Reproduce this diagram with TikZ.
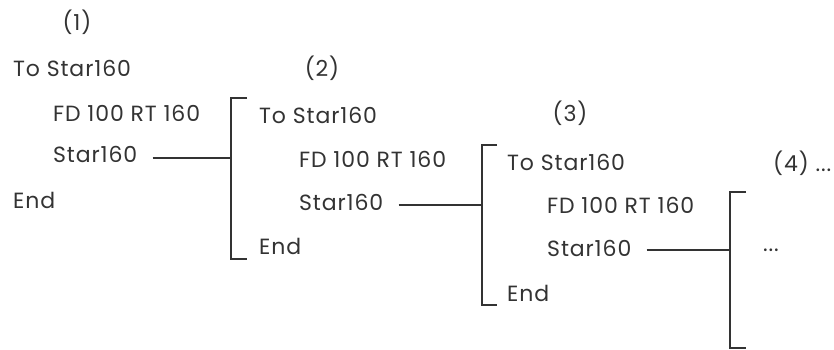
\documentclass[tikz,border=0pt]{standalone}
\usepackage{fontspec}
\setmainfont[LetterSpace=4]{Poppins}
\usetikzlibrary{positioning}
\definecolor{ink}{HTML}{333333}
\tikzset{
  code/.style={anchor=west,inner sep=0pt,text=ink,
               font=\fontsize{22}{24}\selectfont},
  tag/.style={inner sep=0pt,text=ink,font=\fontsize{22}{24}\selectfont},
  wire/.style={line width=1.2pt,draw=ink,shorten <=15pt},
  brace/.style={line width=1.2pt,draw=ink},
}
\begin{document}
\begin{tikzpicture}[x=1pt,y=-1pt]
  \useasboundingbox (0,0) rectangle (834,349);
  % level (1)
  \node[tag] (lbl1) at (77,22) {(1)};
  \node[code] (to1) at (13,68) {To Star160};
  \node[code] (fd1) at (53,113) {FD 100 RT 160};
  \node[code] (st1) at (53,154) {Star160};
  \node[code] (end1) at (13,200) {End};
  % level (2)
  \node[tag] (lbl2) at (322,68) {(2)};
  \node[code] (to2) at (259,115) {To Star160};
  \node[code] (fd2) at (299,159) {FD 100 RT 160};
  \node[code] (st2) at (299,202) {Star160};
  \node[code] (end2) at (259,246) {End};
  % level (3)
  \node[tag] (lbl3) at (570,113) {(3)};
  \node[code] (to3) at (507,162) {To Star160};
  \node[code] (fd3) at (547,205) {FD 100 RT 160};
  \node[code] (st3) at (547,248) {Star160};
  \node[code] (end3) at (507,293) {End};
  % level (4)
  \node[code] (lbl4) at (773,163) {(4) ...};
  \node[tag] (more) at (771,250) {...};
  % brackets
  \coordinate (t1) at (247,98);  \coordinate (j1) at (231,158);
  \coordinate (e1) at (247,259);
  \coordinate (t2) at (497,145); \coordinate (j2) at (482,205);
  \coordinate (e2) at (497,305);
  \coordinate (t3) at (746,192); \coordinate (j3) at (730,250);
  \coordinate (e3) at (746,348);
  \draw[brace] (t1) -| (j1) |- (e1);
  \draw[brace] (t2) -| (j2) |- (e2);
  \draw[brace] (t3) -| (j3) |- (e3);
  % calls
  \draw[wire] (st1.east |- j1) -- (j1);
  \draw[wire] (st2.east |- j2) -- (j2);
  \draw[wire] (st3.east |- j3) -- (j3);
\end{tikzpicture}
\end{document}
